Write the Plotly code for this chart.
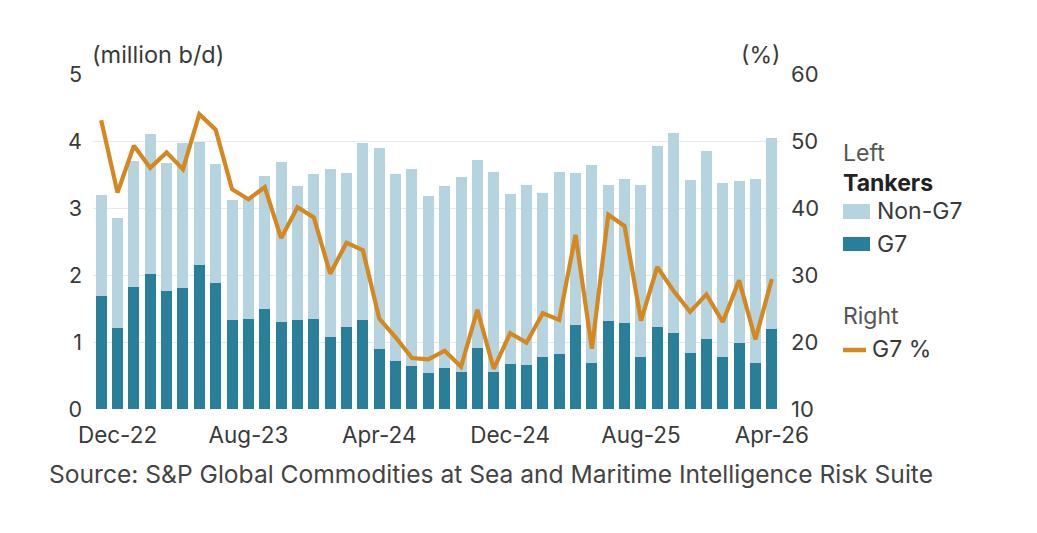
import plotly.graph_objects as go

months = ["Nov-22", "Dec-22", "Jan-23", "Feb-23", "Mar-23", "Apr-23", "May-23", "Jun-23",
          "Jul-23", "Aug-23", "Sep-23", "Oct-23", "Nov-23", "Dec-23", "Jan-24", "Feb-24",
          "Mar-24", "Apr-24", "May-24", "Jun-24", "Jul-24", "Aug-24", "Sep-24", "Oct-24",
          "Nov-24", "Dec-24", "Jan-25", "Feb-25", "Mar-25", "Apr-25", "May-25", "Jun-25",
          "Jul-25", "Aug-25", "Sep-25", "Oct-25", "Nov-25", "Dec-25", "Jan-26", "Feb-26",
          "Mar-26", "Apr-26"]

total = [3.19, 2.85, 3.70, 4.11, 3.67, 3.97, 3.98, 3.66, 3.12, 3.15, 3.48, 3.69, 3.33, 3.51,
         3.58, 3.52, 3.97, 3.89, 3.51, 3.58, 3.18, 3.33, 3.47, 3.71, 3.53, 3.21, 3.34, 3.22,
         3.53, 3.52, 3.64, 3.35, 3.44, 3.34, 3.93, 4.12, 3.42, 3.85, 3.38, 3.41, 3.43, 4.04]

g7 = [1.69, 1.21, 1.82, 2.02, 1.76, 1.81, 2.15, 1.88, 1.33, 1.34, 1.50, 1.30, 1.33, 1.34,
      1.08, 1.22, 1.33, 0.90, 0.72, 0.64, 0.54, 0.61, 0.55, 0.91, 0.55, 0.67, 0.65, 0.78,
      0.82, 1.26, 0.69, 1.31, 1.29, 0.77, 1.23, 1.13, 0.83, 1.04, 0.77, 0.99, 0.69, 1.19]

non_g7 = [round(t - g, 2) for t, g in zip(total, g7)]

g7_pct = [53.1, 42.3, 49.3, 46.0, 48.3, 45.8, 54.0, 51.7, 42.8, 41.3, 43.1, 35.5, 40.1, 38.6,
          30.2, 34.8, 33.7, 23.5, 20.7, 17.6, 17.4, 18.7, 16.3, 24.8, 16.0, 21.3, 19.9, 24.3,
          23.3, 36.0, 19.0, 39.0, 37.3, 23.2, 31.2, 27.6, 24.5, 27.1, 23.0, 29.2, 20.4, 29.4]

tick_labels = ["Dec-22", "Aug-23", "Apr-24", "Dec-24", "Aug-25", "Apr-26"]
left_ticks = [0, 1, 2, 3, 4, 5]
right_ticks = [10, 20, 30, 40, 50, 60]

LIGHT = "#b6d4df"
DARK = "#2a7f98"
ORANGE = "#d4881f"
FONT = "Inter"
TXT = "#3a3a3a"

# the page is shown with the browser's default 8px body margin, so the figure
# is drawn 8px smaller and reference pixel positions are offset by 8
OFF = 8

fig = go.Figure()
fig.add_trace(go.Bar(x=months, y=g7, name="G7", marker=dict(color=DARK, line=dict(width=0)),
                     showlegend=False))
fig.add_trace(go.Bar(x=months, y=non_g7, name="Non-G7", marker=dict(color=LIGHT, line=dict(width=0)),
                     showlegend=False))
fig.add_trace(go.Scatter(x=months, y=g7_pct, name="G7 %", mode="lines", yaxis="y2",
                         line=dict(color=ORANGE, width=4.2), showlegend=False))

fig.update_layout(
    width=1037 - OFF, height=533 - OFF,
    margin=dict(l=93 - OFF, r=257, t=74 - OFF, b=124),
    paper_bgcolor="white", plot_bgcolor="white",
    barmode="stack", bargap=0.33,
    font=dict(family=FONT, size=21, color=TXT),
    xaxis=dict(type="category", categoryorder="array", categoryarray=months,
               tickmode="array", tickvals=tick_labels, ticktext=tick_labels,
               showgrid=False, showline=False, ticks="", zeroline=False,
               ticklabelstandoff=10,
               range=[-0.5, len(months) - 0.5], tickfont=dict(size=22.5, color=TXT)),
    yaxis=dict(range=[0, 5], tickvals=left_ticks, showgrid=True, gridcolor="#e8e8e8",
               gridwidth=1, zeroline=False, showline=False, ticks="",
               ticklabelstandoff=10, tickfont=dict(size=21.5, color=TXT)),
    yaxis2=dict(range=[10, 60], tickvals=right_ticks, overlaying="y", side="right",
                showgrid=False, zeroline=False, showline=False, ticks="",
                ticklabelstandoff=10, tickfont=dict(size=22, color=TXT)),
)

def px_x(px):
    return (px - 93) / 687.0

def px_y(py):
    return (409 - py) / 335.0

def label(text, x, y, size, color, anchor="left"):
    return dict(text=text, x=x, y=y, xref="paper", yref="paper", xanchor=anchor,
                yanchor="middle", showarrow=False, font=dict(size=size, color=color))

ann = [
    label("(million b/d)", px_x(90), px_y(55), 23.5, TXT),
    label("(%)", px_x(782), px_y(55), 23, TXT, "right"),
    label("Left", px_x(841), px_y(153), 23, "#555555"),
    label("<b>Tankers</b>", px_x(841), px_y(183), 23, "#222222"),
    label("Non-G7", px_x(875), px_y(211), 23, TXT),
    label("G7", px_x(875), px_y(244), 23, TXT),
    label("Right", px_x(841), px_y(316), 23, "#555555"),
    label("G7 %", px_x(870), px_y(349), 23, TXT),
    label("Source: S&P Global Commodities at Sea and Maritime Intelligence Risk Suite",
          px_x(47), px_y(474), 24.6, "#444444"),
]
fig.update_layout(annotations=ann)

shapes = [
    dict(type="rect", xref="paper", yref="paper", x0=px_x(843), x1=px_x(870),
         y0=px_y(219), y1=px_y(204), fillcolor=LIGHT, line=dict(width=0)),
    dict(type="rect", xref="paper", yref="paper", x0=px_x(843), x1=px_x(870),
         y0=px_y(251), y1=px_y(237), fillcolor=DARK, line=dict(width=0)),
    dict(type="line", xref="paper", yref="paper", x0=px_x(843), x1=px_x(866),
         y0=px_y(350), y1=px_y(350), line=dict(color=ORANGE, width=4.5)),
]
fig.update_layout(shapes=shapes)

fig.write_html("out.html")
